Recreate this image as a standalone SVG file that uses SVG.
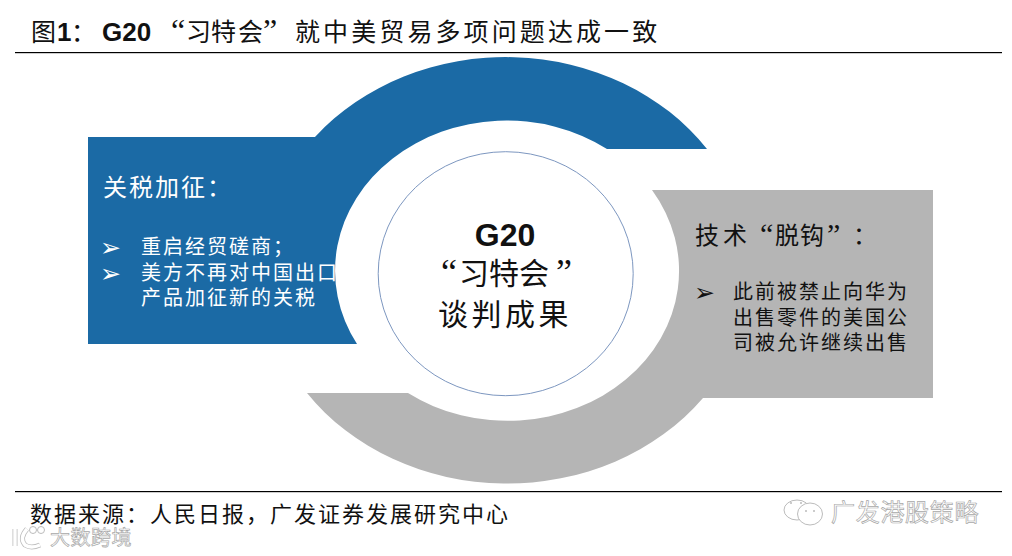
<svg xmlns="http://www.w3.org/2000/svg" width="1012" height="556" viewBox="0 0 1012 556">
<style>
text{font-family:"Noto Sans CJK SC","Noto Sans",sans-serif;fill:#111}
.q{font-family:"Liberation Serif",serif}
.b{font-family:"Liberation Sans",sans-serif;font-weight:700}
.title{font-size:25px}
.foot{font-size:22px;letter-spacing:2px}
.w{fill:#fff}
.head{font-size:24px}
.body{font-size:20px;letter-spacing:2px}
.arrow{font-family:"DejaVu Sans",sans-serif;font-size:25px}
.big{font-size:30px}
.mark{fill:#fff;stroke:#a8a8a8;stroke-width:.7px}
.ic{fill:#fff;stroke:#bcbcbc;stroke-width:1}
</style>
<rect width="1012" height="556" fill="#fff"/>
<g id="title">
<text class="title" y="41"><tspan x="31">图</tspan><tspan class="b" x="57" font-size="26">1</tspan><tspan x="71">：</tspan><tspan class="b" x="102" font-size="26">G20</tspan><tspan class="q" x="171" font-size="32">“</tspan><tspan x="186">习</tspan><tspan x="211">特</tspan><tspan x="238">会</tspan><tspan class="q" x="263" font-size="32">”</tspan></text>
<text class="title" x="295" y="41" letter-spacing="3.1">就中美贸易多项问题达成一致</text>
<rect x="15" y="52" width="987" height="1.2" fill="#000"/>
</g>
<g id="tariff-node">
<path fill="#1b6aa5" d="M88 137H315A244.5 213 0 0 1 707 149H607A171.5 150 0 0 0 357 344H88Z"/>
<text class="head w" x="103" y="196" letter-spacing="2">关税加征：</text>
<text class="arrow w" x="100" y="256">➢</text>
<text class="body w" x="141" y="254">重启经贸磋商；</text>
<text class="arrow w" x="100" y="282">➢</text>
<text class="body w" x="141" y="280">美方不再对中国出口</text>
<text class="body w" x="141" y="305">产品加征新的关税</text>
</g>
<g id="tech-node">
<path fill="#b5b5b5" d="M652 190H933V398H703A244.5 213 0 0 1 307 393H408A171.5 150 0 0 0 652 190Z"/>
<text class="head" y="244"><tspan x="695">技</tspan><tspan x="723">术</tspan><tspan class="q" x="760" font-size="30">“</tspan><tspan x="775">脱</tspan><tspan x="800">钩</tspan><tspan class="q" x="827" font-size="30">”</tspan><tspan x="853">：</tspan></text>
<text class="arrow" x="694" y="301">➢</text>
<text class="body" x="733" y="299">此前被禁止向华为</text>
<text class="body" x="733" y="325">出售零件的美国公</text>
<text class="body" x="733" y="350">司被允许继续出售</text>
</g>
<g id="center-node">
<ellipse cx="505.7" cy="273.7" rx="127.5" ry="122" fill="#fff" stroke="#7d97c0" stroke-width="1"/>
<text class="b" x="505" y="246" font-size="32" text-anchor="middle">G20</text>
<text class="big" y="284"><tspan class="q" x="441" font-size="36">“</tspan><tspan x="459">习</tspan><tspan x="489">特</tspan><tspan x="519">会</tspan><tspan class="q" x="556" font-size="36">”</tspan></text>
<text class="big" x="438" y="325" letter-spacing="3.5">谈判成果</text>
</g>
<g id="footer">
<rect x="15" y="491" width="987" height="1.2" fill="#000"/>
<text class="foot" x="30" y="522">数据来源：人民日报，广发证券发展研究中心</text>
</g>
<g id="watermarks">
<ellipse class="ic" cx="797" cy="510" rx="13" ry="10"/>
<ellipse class="ic" cx="810" cy="514" rx="12.5" ry="11"/>
<circle cx="791" cy="503" r="1" fill="#bbb"/><circle cx="801" cy="503" r="1" fill="#bbb"/><circle cx="806" cy="511" r="1" fill="#bbb"/><circle cx="814" cy="511" r="1" fill="#bbb"/>
<text class="mark" x="831" y="521" font-size="24" letter-spacing=".7">广发港股策略</text>
<path d="M15 529V546M27 529Q19 538 25 545Q31 549 40 545" fill="none" stroke="#bdbdbd" stroke-width="5"/>
<path d="M15 529V546M27 529Q19 538 25 545Q31 549 40 545" fill="none" stroke="#fff" stroke-width="3.4"/>
<circle class="ic" cx="33" cy="530" r="3.5"/><circle class="ic" cx="41" cy="530" r="3.5"/>
<text class="mark" x="50" y="545" font-size="20" letter-spacing=".5">大数跨境</text>
</g>
</svg>
